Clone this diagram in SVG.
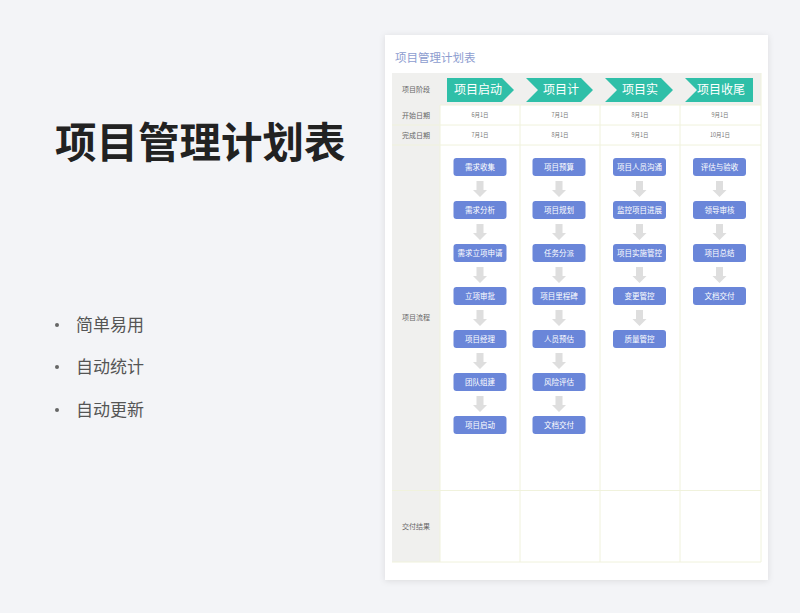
<svg xmlns="http://www.w3.org/2000/svg" xmlns:xlink="http://www.w3.org/1999/xlink" width="800" height="613" viewBox="0 0 800 613">
<defs>
<style>
.cjk{font-family:"Noto Sans CJK SC","Noto Sans",sans-serif;}
.box{fill:#6a86d9;}
.bt{font-family:"Noto Sans CJK SC",sans-serif;font-size:7.5px;fill:#ffffff;text-anchor:middle;}
.lab{font-family:"Noto Sans CJK SC",sans-serif;font-size:7px;fill:#666;text-anchor:middle;}
.date{font-family:"Noto Sans CJK SC",sans-serif;font-size:5.5px;fill:#777;text-anchor:middle;}
.grid{stroke:#f0f2dc;stroke-width:1;fill:none;}
.chev{fill:#2fbfa8;}
.ct{font-family:"Noto Sans CJK SC",sans-serif;font-size:12px;fill:#ffffff;text-anchor:middle;}
.arr{fill:#dedede;}
.bul{font-family:"Noto Sans CJK SC",sans-serif;font-size:17px;fill:#555;}
</style>
<filter id="sh" x="-10%" y="-10%" width="120%" height="120%">
<feDropShadow dx="0" dy="1" stdDeviation="3" flood-color="#000" flood-opacity="0.10"/>
</filter>
<path id="ar" d="M-3.5,0 H3.5 V9 H7 L0,16 L-7,9 H-3.5 Z"/>
</defs>
<rect x="0" y="0" width="800" height="613" fill="#f3f4f7"/>

<!-- left side -->
<g id="main-title">
<text x="55" y="158" class="cjk" font-size="41.5" font-weight="bold" fill="#222">项目管理计划表</text>
</g>
<g id="bullets">
<circle cx="57" cy="325" r="2" fill="#666"/>
<text x="76" y="331" class="bul">简单易用</text>
<circle cx="57" cy="367" r="2" fill="#666"/>
<text x="76" y="373" class="bul">自动统计</text>
<circle cx="57" cy="410" r="2" fill="#666"/>
<text x="76" y="416" class="bul">自动更新</text>
</g>

<!-- card -->
<g id="card">
<rect x="385" y="35" width="383" height="545" fill="#ffffff" filter="url(#sh)"/>
<text x="395" y="62" class="cjk" font-size="11.5" fill="#8d9dcf">项目管理计划表</text>
</g>

<g id="table">
<rect x="392" y="73" width="369" height="32" fill="#f0f0ee"/>
<rect x="392" y="105" width="48" height="457" fill="#f0f0ee"/>
<rect x="440" y="105" width="321" height="457" fill="#ffffff"/>
<path class="grid" d="M440,105 H761 M392,125 H761 M392,145 H761 M392,490.5 H761 M392,562 H761 M440,105 V562 M520,105 V562 M600,105 V562 M680,105 V562 M761,73 V562"/>
<text x="416" y="91.5" class="lab">项目阶段</text>
<text x="416" y="117.5" class="lab">开始日期</text>
<text x="416" y="137.5" class="lab">完成日期</text>
<text x="416" y="320" class="lab">项目流程</text>
<text x="416" y="528.5" class="lab">交付结果</text>
<text x="480" y="117" class="date">6月1日</text>
<text x="560" y="117" class="date">7月1日</text>
<text x="640" y="117" class="date">8月1日</text>
<text x="720" y="117" class="date">9月1日</text>
<text x="480" y="137" class="date">7月1日</text>
<text x="560" y="137" class="date">8月1日</text>
<text x="640" y="137" class="date">9月1日</text>
<text x="720" y="137" class="date">10月1日</text>
</g>

<g id="stages">
<g id="stage1"><path class="chev" d="M447,78 H502 L514,90 L502,102 H447 Z"/><text x="478" y="94.3" class="ct">项目启动</text></g>
<g id="stage2"><path class="chev" d="M526,78 H581 L593,90 L581,102 H526 L538,90 Z"/><text x="561" y="94.3" class="ct">项目计</text></g>
<g id="stage3"><path class="chev" d="M605,78 H661 L673,90 L661,102 H605 L617,90 Z"/><text x="640" y="94.3" class="ct">项目实</text></g>
<g id="stage4"><path class="chev" d="M685,78 H753 V102 H685 L697,90 Z"/><text x="721" y="94.3" class="ct">项目收尾</text></g>
</g>

<g id="connectors">
<use xlink:href="#ar" href="#ar" x="480" y="181" class="arr"/>
<use xlink:href="#ar" href="#ar" x="480" y="224" class="arr"/>
<use xlink:href="#ar" href="#ar" x="480" y="267" class="arr"/>
<use xlink:href="#ar" href="#ar" x="480" y="310" class="arr"/>
<use xlink:href="#ar" href="#ar" x="480" y="353" class="arr"/>
<use xlink:href="#ar" href="#ar" x="480" y="396" class="arr"/>
<use xlink:href="#ar" href="#ar" x="559" y="181" class="arr"/>
<use xlink:href="#ar" href="#ar" x="559" y="224" class="arr"/>
<use xlink:href="#ar" href="#ar" x="559" y="267" class="arr"/>
<use xlink:href="#ar" href="#ar" x="559" y="310" class="arr"/>
<use xlink:href="#ar" href="#ar" x="559" y="353" class="arr"/>
<use xlink:href="#ar" href="#ar" x="559" y="396" class="arr"/>
<use xlink:href="#ar" href="#ar" x="639.5" y="181" class="arr"/>
<use xlink:href="#ar" href="#ar" x="639.5" y="224" class="arr"/>
<use xlink:href="#ar" href="#ar" x="639.5" y="267" class="arr"/>
<use xlink:href="#ar" href="#ar" x="639.5" y="310" class="arr"/>
<use xlink:href="#ar" href="#ar" x="719.5" y="181" class="arr"/>
<use xlink:href="#ar" href="#ar" x="719.5" y="224" class="arr"/>
<use xlink:href="#ar" href="#ar" x="719.5" y="267" class="arr"/>
</g>

<g id="col1">
<g id="n1-1"><rect class="box" x="453.5" y="158" width="53" height="18" rx="3"/><text class="bt" x="480" y="169.6">需求收集</text></g>
<g id="n1-2"><rect class="box" x="453.5" y="201" width="53" height="18" rx="3"/><text class="bt" x="480" y="212.6">需求分析</text></g>
<g id="n1-3"><rect class="box" x="453.5" y="244" width="53" height="18" rx="3"/><text class="bt" x="480" y="255.6">需求立项申请</text></g>
<g id="n1-4"><rect class="box" x="453.5" y="287" width="53" height="18" rx="3"/><text class="bt" x="480" y="298.6">立项审批</text></g>
<g id="n1-5"><rect class="box" x="453.5" y="330" width="53" height="18" rx="3"/><text class="bt" x="480" y="341.6">项目经理</text></g>
<g id="n1-6"><rect class="box" x="453.5" y="373" width="53" height="18" rx="3"/><text class="bt" x="480" y="384.6">团队组建</text></g>
<g id="n1-7"><rect class="box" x="453.5" y="416" width="53" height="18" rx="3"/><text class="bt" x="480" y="427.6">项目启动</text></g>
</g>
<g id="col2">
<g id="n2-1"><rect class="box" x="532.5" y="158" width="53" height="18" rx="3"/><text class="bt" x="559" y="169.6">项目预算</text></g>
<g id="n2-2"><rect class="box" x="532.5" y="201" width="53" height="18" rx="3"/><text class="bt" x="559" y="212.6">项目规划</text></g>
<g id="n2-3"><rect class="box" x="532.5" y="244" width="53" height="18" rx="3"/><text class="bt" x="559" y="255.6">任务分派</text></g>
<g id="n2-4"><rect class="box" x="532.5" y="287" width="53" height="18" rx="3"/><text class="bt" x="559" y="298.6">项目里程碑</text></g>
<g id="n2-5"><rect class="box" x="532.5" y="330" width="53" height="18" rx="3"/><text class="bt" x="559" y="341.6">人员预估</text></g>
<g id="n2-6"><rect class="box" x="532.5" y="373" width="53" height="18" rx="3"/><text class="bt" x="559" y="384.6">风险评估</text></g>
<g id="n2-7"><rect class="box" x="532.5" y="416" width="53" height="18" rx="3"/><text class="bt" x="559" y="427.6">文档交付</text></g>
</g>
<g id="col3">
<g id="n3-1"><rect class="box" x="613" y="158" width="53" height="18" rx="3"/><text class="bt" x="639.5" y="169.6">项目人员沟通</text></g>
<g id="n3-2"><rect class="box" x="613" y="201" width="53" height="18" rx="3"/><text class="bt" x="639.5" y="212.6">监控项目进展</text></g>
<g id="n3-3"><rect class="box" x="613" y="244" width="53" height="18" rx="3"/><text class="bt" x="639.5" y="255.6">项目实施管控</text></g>
<g id="n3-4"><rect class="box" x="613" y="287" width="53" height="18" rx="3"/><text class="bt" x="639.5" y="298.6">变更管控</text></g>
<g id="n3-5"><rect class="box" x="613" y="330" width="53" height="18" rx="3"/><text class="bt" x="639.5" y="341.6">质量管控</text></g>
</g>
<g id="col4">
<g id="n4-1"><rect class="box" x="693" y="158" width="53" height="18" rx="3"/><text class="bt" x="719.5" y="169.6">评估与验收</text></g>
<g id="n4-2"><rect class="box" x="693" y="201" width="53" height="18" rx="3"/><text class="bt" x="719.5" y="212.6">领导审核</text></g>
<g id="n4-3"><rect class="box" x="693" y="244" width="53" height="18" rx="3"/><text class="bt" x="719.5" y="255.6">项目总结</text></g>
<g id="n4-4"><rect class="box" x="693" y="287" width="53" height="18" rx="3"/><text class="bt" x="719.5" y="298.6">文档交付</text></g>
</g>
</svg>
